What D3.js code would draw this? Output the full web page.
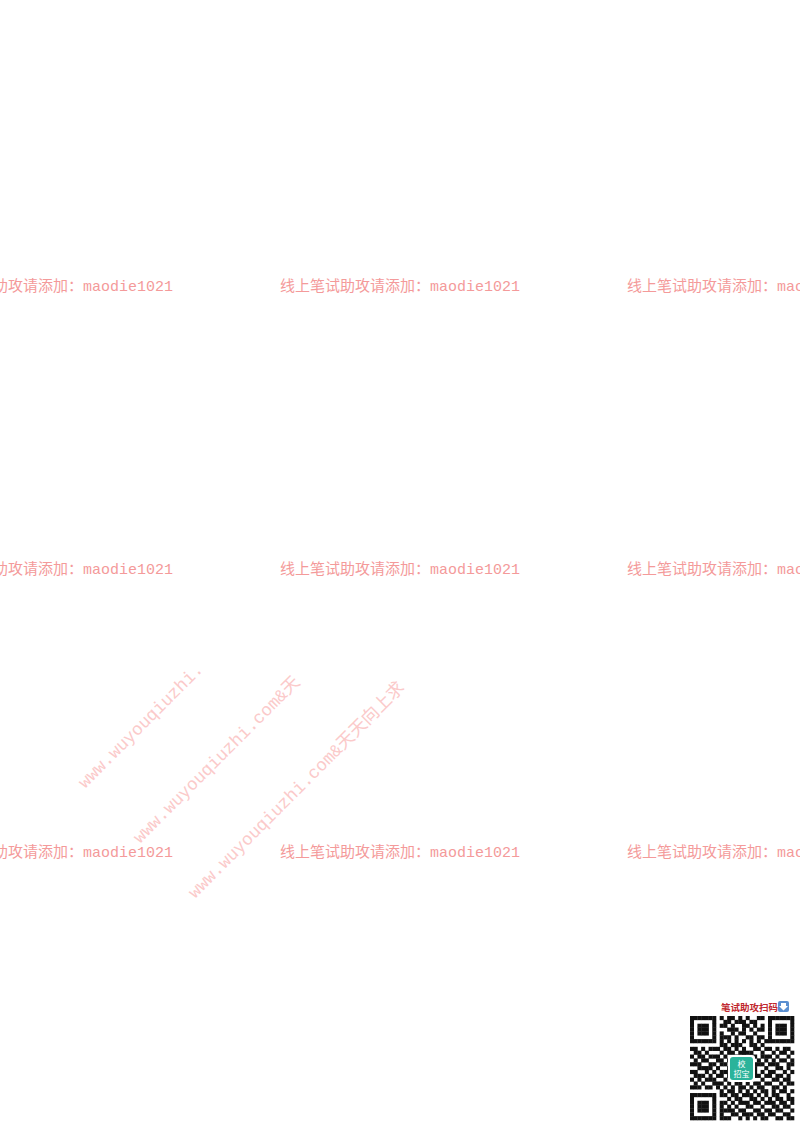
<!DOCTYPE html>
<html><head><meta charset="utf-8">
<script src="https://cdn.jsdelivr.net/npm/d3@7"></script>
<style>body{margin:0;background:#fff}</style>
</head><body>
<script>
// watermark rows and columns
var rowYs = [285, 568, 851];
var colXs = [-67, 280, 627];
var markText = '线上笔试助攻请添加：maodie1021';
var diagTexts = ['www.wuyouqiuzhi.', 'www.wuyouqiuzhi.com&天', 'www.wuyouqiuzhi.com&天天向上求'];
var diagStarts = [[85, 789], [140, 844], [195, 899]];
var qrRows = [
'1111111010110101001101111111',
'1000001001101110110001000001',
'1011101011010011010101011101',
'1011101000111010101101011101',
'1011101010010110010001011101',
'1000001011101001101101000001',
'1111111010101010101011111111',
'0000000011011100110100000000',
'1101011101101010011011010110',
'0110100010110111100100101101',
'1011011101001010110111010010',
'0101100110110101001010101101',
'1110011011010000011101110011',
'0011110100100000010010011010',
'1100101011100000010101100101',
'0111010110100000011011011010',
'1010111001011011100100110110',
'0101001110101101011011001011',
'1110110101010110101100110100',
'0000000010110101010110101101',
'1111111011011011101010110010',
'1000001000101100110101011011',
'1011101011010111011011101101',
'1011101010101001100100110110',
'1011101011110110011011011001',
'1000001010011011101101100110',
'1111111011100101010110011011'
];

var font = 'Liberation Mono, Noto Sans CJK SC, monospace';
var svg = d3.select('body').append('svg').attr('width', 800).attr('height', 1132);

rowYs.forEach(function(y) {
    svg.selectAll(null).data(colXs).enter().append('text')
        .attr('x', function(d) { return d; })
        .attr('y', y + 6)
        .style('font-family', font)
        .style('font-size', '15px')
        .style('fill', '#f49a9a')
        .text(markText);
});

svg.selectAll('.diag').data(diagTexts).enter().append('text')
    .attr('class', 'diag')
    .attr('transform', function(d, i) {
        return 'translate(' + diagStarts[i][0] + ',' + diagStarts[i][1] + ') rotate(-45)';
    })
    .style('font-family', font)
    .style('font-size', '17.5px')
    .style('fill', '#fbcaca')
    .text(function(d) { return d; });

// qr block
var qx = d3.scaleLinear().domain([0, qrRows[0].length]).range([690, 794]);
var qy = d3.scaleLinear().domain([0, qrRows.length]).range([1016, 1120]);
var cells = [];
qrRows.forEach(function(r, i) {
    r.split('').forEach(function(c, j) { if (c === '1') cells.push([i, j]); });
});
svg.selectAll('.qr').data(cells).enter().append('rect')
    .attr('x', function(d) { return qx(d[1]); })
    .attr('y', function(d) { return qy(d[0]); })
    .attr('width', qx(1) - qx(0) + 0.3)
    .attr('height', qy(1) - qy(0) + 0.3)
    .attr('fill', '#111');
svg.append('rect').attr('x', 728).attr('y', 1055).attr('width', 27).attr('height', 27)
    .attr('rx', 3).attr('fill', '#fff');
svg.append('rect').attr('x', 730).attr('y', 1057).attr('width', 23).attr('height', 23)
    .attr('rx', 3).attr('fill', '#2bb39a');
svg.append('text').attr('x', 741.5).attr('y', 1067).attr('text-anchor', 'middle')
    .style('font-size', '8px').style('fill', '#fff').style('font-family', 'Noto Sans CJK SC').text('校');
svg.append('text').attr('x', 741.5).attr('y', 1077).attr('text-anchor', 'middle')
    .style('font-size', '8px').style('fill', '#fff').style('font-family', 'Noto Sans CJK SC').text('招宝');

svg.append('text').attr('x', 721).attr('y', 1011)
    .style('font-family', 'Noto Sans CJK SC').style('font-weight', 'bold')
    .style('font-size', '9.5px').style('fill', '#c0272d').text('笔试助攻扫码');
svg.append('rect').attr('x', 778).attr('y', 1001).attr('width', 11).attr('height', 11)
    .attr('rx', 2).attr('fill', '#5b8fd0');
svg.append('path').attr('d', 'M781,1003 L786,1003 L786,1006 L788,1006 L783.5,1010.5 L779,1006 L781,1006 Z')
    .attr('fill', '#fff');
</script>
</body></html>
